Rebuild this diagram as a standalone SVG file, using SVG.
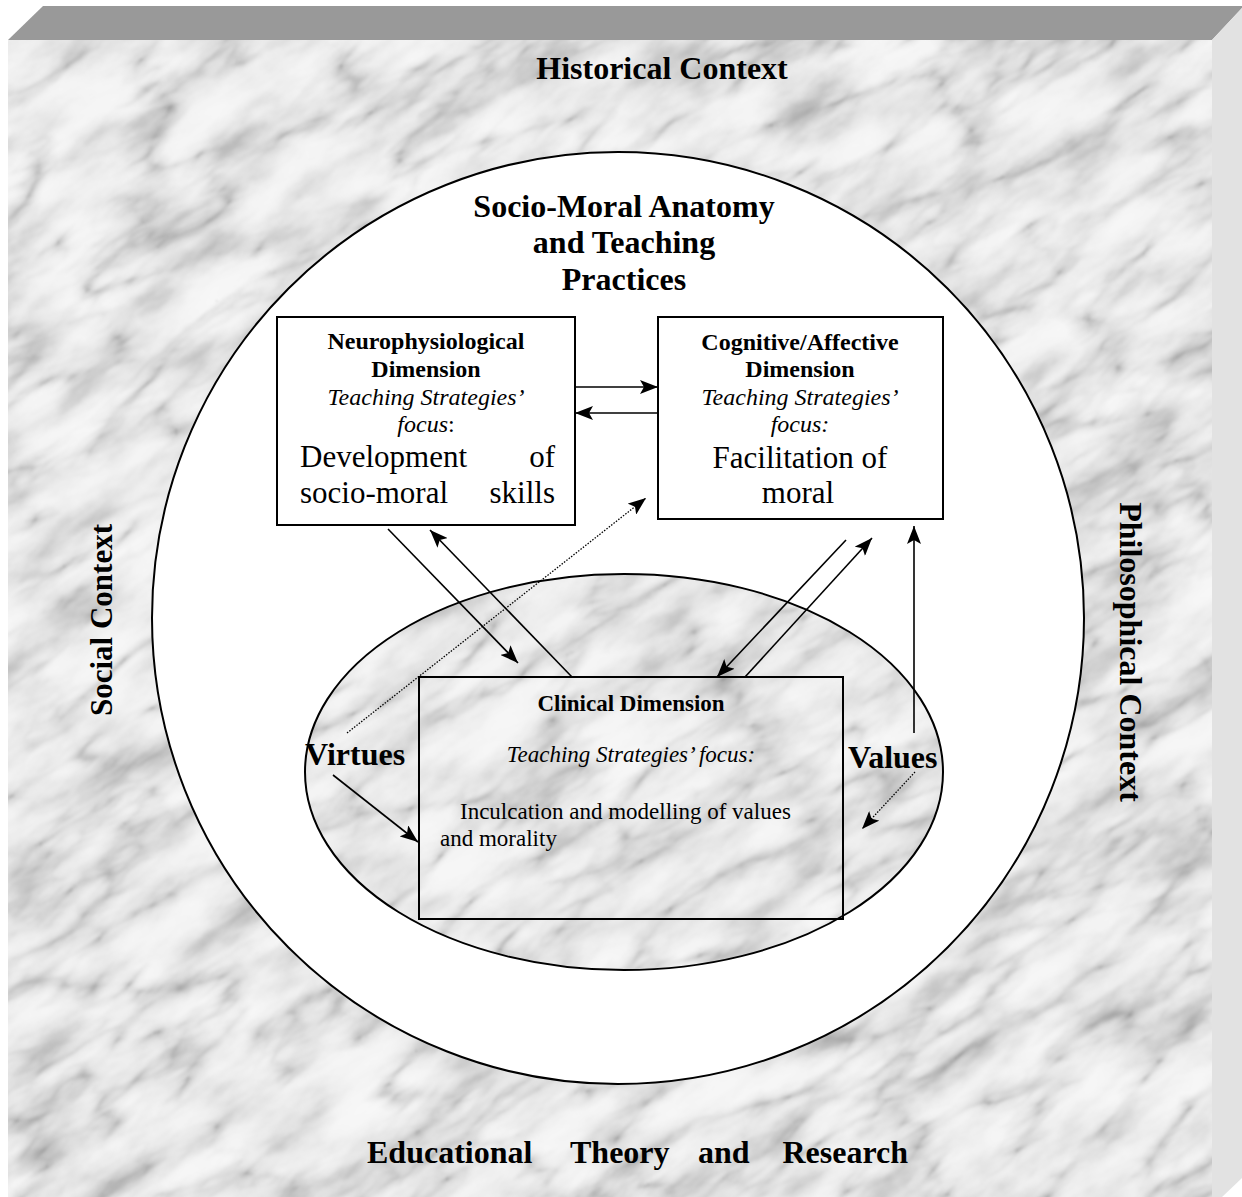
<svg xmlns="http://www.w3.org/2000/svg" xmlns:xlink="http://www.w3.org/1999/xlink" width="1242" height="1197" viewBox="0 0 1242 1197">
<style>
text{font-family:"Liberation Serif","Times New Roman",serif;fill:#000}
.b{font-weight:bold}
.i{font-style:italic}
.c{text-anchor:middle}
.e{text-anchor:end}
.box{fill:#fff;stroke:#000;stroke-width:2}
.clin{fill:none;stroke:#000;stroke-width:2}
.ln{stroke:#000;stroke-width:1.6;fill:none;marker-end:url(#ah)}
.dot{stroke:#000;stroke-width:1.3;stroke-dasharray:1.5 1.5;fill:none;marker-end:url(#ah)}
</style>
<defs>
<filter id="mf" x="0" y="0" width="1" height="1" color-interpolation-filters="sRGB">
<feTurbulence type="fractalNoise" baseFrequency="0.01 0.026" numOctaves="5" seed="4" result="n1"/>
<feColorMatrix in="n1" type="matrix" values="1 0 0 0 0  1 0 0 0 0  1 0 0 0 0  0 0 0 0 1" result="g1"/>
<feComponentTransfer in="g1" result="m1">
<feFuncR type="table" tableValues="0.7 0.75 0.82 0.89 0.93 0.955 0.965 0.97 0.97"/>
<feFuncG type="table" tableValues="0.7 0.75 0.82 0.89 0.93 0.955 0.965 0.97 0.97"/>
<feFuncB type="table" tableValues="0.7 0.75 0.82 0.89 0.93 0.955 0.965 0.97 0.97"/>
</feComponentTransfer>
<feTurbulence type="turbulence" baseFrequency="0.006 0.018" numOctaves="4" seed="9" result="n2"/>
<feColorMatrix in="n2" type="matrix" values="1 0 0 0 0  1 0 0 0 0  1 0 0 0 0  0 0 0 0 1" result="g2"/>
<feComponentTransfer in="g2" result="m2">
<feFuncR type="table" tableValues="0.76 0.9 0.97 1 1 1 1 1 1 1"/>
<feFuncG type="table" tableValues="0.76 0.9 0.97 1 1 1 1 1 1 1"/>
<feFuncB type="table" tableValues="0.76 0.9 0.97 1 1 1 1 1 1 1"/>
</feComponentTransfer>
<feBlend in="m1" in2="m2" mode="multiply" result="mx"/>
<feGaussianBlur in="mx" stdDeviation="1.2"/>
</filter>
<clipPath id="face"><rect x="8" y="40" width="1204" height="1157"/></clipPath>
<clipPath id="ell"><ellipse cx="624" cy="772" rx="319" ry="198"/></clipPath>
<marker id="ah" viewBox="0 0 18 14" refX="18" refY="7" markerWidth="18" markerHeight="14" markerUnits="userSpaceOnUse" orient="auto"><path d="M0,0 L18,7 L0,14 L4,7 Z" fill="#000"/></marker>
<rect id="marbleSrc" x="-250" y="-250" width="1740" height="1700" filter="url(#mf)" transform="rotate(-32 620 600)"/>
</defs>

<rect width="1242" height="1197" fill="#fff"/>
<g id="frame">
<polygon points="8,40 43,6 1242,6 1242,8 1212,40" fill="#999999"/>
<polygon points="1212,40 1242,8 1242,1178 1222,1197 1212,1197" fill="#e2e2e2"/>
<g clip-path="url(#face)"><use xlink:href="#marbleSrc"/></g>
</g>

<g id="outer-circle">
<circle cx="618" cy="618" r="466" fill="#fff" stroke="#000" stroke-width="2"/>
</g>

<g id="inner-ellipse">
<g clip-path="url(#ell)"><use xlink:href="#marbleSrc"/></g>
<ellipse cx="624" cy="772" rx="319" ry="198" fill="none" stroke="#000" stroke-width="2"/>
</g>

<g id="context-labels">
<text class="b c" x="662" y="79" font-size="32">Historical Context</text>
<text class="b c" font-size="31" transform="translate(112,620) rotate(-90)">Social Context</text>
<text class="b c" font-size="32" transform="translate(1120,652) rotate(90)">Philosophical Context</text>
<g class="b" font-size="32">
<text x="367" y="1163" class="b">Educational</text>
<text x="570" y="1163" class="b">Theory</text>
<text x="698" y="1163" class="b">and</text>
<text x="908" y="1163" class="b e">Research</text>
</g>
</g>

<g id="title">
<text class="b c" x="624" y="217" font-size="32">Socio-Moral Anatomy</text>
<text class="b c" x="624" y="253" font-size="32">and Teaching</text>
<text class="b c" x="624" y="290" font-size="32">Practices</text>
</g>

<g id="neurophysiological">
<rect class="box" x="277" y="317" width="298" height="208"/>
<text class="b c" x="426" y="349" font-size="24">Neurophysiological</text>
<text class="b c" x="426" y="377" font-size="24">Dimension</text>
<text class="i c" x="426" y="405" font-size="24">Teaching Strategies’</text>
<text class="c" x="426" y="432" font-size="24"><tspan font-style="italic">focus</tspan>:</text>
<text x="300" y="467" font-size="31">Development</text>
<text class="e" x="555" y="467" font-size="31">of</text>
<text x="300" y="503" font-size="31">socio-moral</text>
<text class="e" x="555" y="503" font-size="31">skills</text>
</g>

<g id="cognitive-affective">
<rect class="box" x="658" y="317" width="285" height="202"/>
<text class="b c" x="800" y="350" font-size="24">Cognitive/Affective</text>
<text class="b c" x="800" y="377" font-size="24">Dimension</text>
<text class="i c" x="800" y="405" font-size="24">Teaching Strategies’</text>
<text class="i c" x="800" y="432" font-size="24">focus:</text>
<text class="c" x="800" y="468" font-size="31">Facilitation of</text>
<text class="c" x="798" y="503" font-size="31">moral</text>
</g>

<g id="clinical">
<rect class="clin" x="419" y="677" width="424" height="242"/>
<text class="b c" x="631" y="711" font-size="23">Clinical Dimension</text>
<text class="i c" x="631" y="762" font-size="23">Teaching Strategies’ focus:</text>
<text x="460" y="819" font-size="23">Inculcation and modelling of values</text>
<text x="440" y="846" font-size="23">and morality</text>
</g>

<g id="virtues">
<text class="b" x="305" y="765" font-size="32">Virtues</text>
</g>
<g id="values">
<text class="b" x="848" y="768" font-size="32">Values</text>
</g>

<g id="connectors">
<line class="ln" x1="575" y1="387" x2="658" y2="387"/>
<line class="ln" x1="658" y1="413" x2="575" y2="413"/>
<line class="ln" x1="388" y1="529" x2="518" y2="663"/>
<line class="ln" x1="572" y1="677" x2="430" y2="530"/>
<line class="dot" x1="347" y1="733" x2="646" y2="498"/>
<line class="ln" x1="846" y1="540" x2="717" y2="677"/>
<line class="ln" x1="745" y1="677" x2="872" y2="538"/>
<line class="ln" x1="914" y1="733" x2="914" y2="526"/>
<line class="dot" x1="915" y1="772" x2="862" y2="829"/>
<line class="ln" x1="333" y1="775" x2="418" y2="842"/>
</g>
</svg>
